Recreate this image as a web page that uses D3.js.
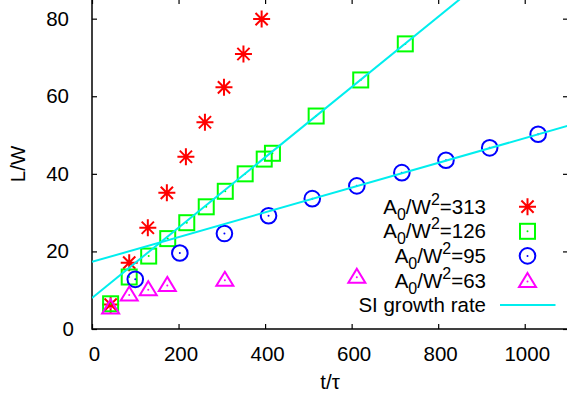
<!DOCTYPE html>
<html>
<head>
<meta charset="utf-8">
<script src="https://cdn.jsdelivr.net/npm/d3@7"></script>
<style>
  body { margin: 0; background: #fff; }
  svg { display: block; font-family: "Liberation Sans", Arial, sans-serif; }
  .axis path { display: none; }
  .axis line { stroke: #000; stroke-width: 1.2; }
  .axis text { font-size: 20.5px; fill: #000; font-family: "Liberation Sans", Arial, sans-serif; }
</style>
</head>
<body>
<svg width="567" height="400"></svg>
<script>
// data
const t313 = [43, 86, 129, 173, 217, 261, 305, 350, 392];
const L313 = [6.3, 17.1, 26.1, 35.1, 44.4, 53.3, 62.3, 70.9, 79.9];

const t126 = [43, 86, 131, 175, 219, 264, 308, 354, 398, 417, 518, 621, 724];
const L126 = [6.5, 13.4, 18.8, 23.3, 27.4, 31.5, 35.5, 40.0, 43.8, 45.3, 54.9, 64.2, 73.5];

const t95 = [100, 203, 306, 408, 509, 612, 716, 818, 919, 1031];
const L95 = [12.8, 19.6, 24.6, 29.2, 33.6, 36.9, 40.3, 43.5, 46.7, 50.2];

const t63 = [43, 86, 130, 174, 307, 612];
const L63 = [5.7, 9.0, 10.4, 11.5, 12.8, 13.6];

// SI growth rate fits: L/W = a + b*t
const siIntercept = [8.0, 17.3];
const siSlope = [0.0906, 0.0319];

const xTicks = [0, 200, 400, 600, 800, 1000];
const yTicks = [0, 20, 40, 60, 80];

const legendLabels = ["313", "126", "95", "63"];

var svg = d3.select("svg");
var mLeft = 92, mRight = 568, mTop = -1, mBottom = 329;

var x = d3.scaleLinear().domain([0, 1100]).range([mLeft, mRight]);
var y = d3.scaleLinear().domain([0, 85.07]).range([mBottom, mTop]);

// axes with inward ticks
svg.append("g").attr("class", "axis")
    .attr("transform", "translate(0," + mBottom + ")")
    .call(d3.axisBottom(x).tickValues(xTicks).tickFormat(d3.format("d"))
        .tickSizeInner(-5).tickSizeOuter(0).tickPadding(17))
    .selectAll("text").attr("dx", 2);

svg.append("g").attr("class", "axis")
    .attr("transform", "translate(0," + mTop + ")")
    .call(d3.axisTop(x).tickValues(xTicks).tickSizeInner(-5).tickSizeOuter(0).tickFormat(""));

svg.append("g").attr("class", "axis")
    .attr("transform", "translate(" + mLeft + ",0)")
    .call(d3.axisLeft(y).tickValues(yTicks).tickFormat(d3.format("d"))
        .tickSizeInner(-5).tickSizeOuter(0).tickPadding(23))
    .selectAll("text").attr("dx", function(d) { return d === 0 ? 5 : 0; });

svg.append("g").attr("class", "axis")
    .attr("transform", "translate(" + mRight + ",0)")
    .call(d3.axisRight(y).tickValues(yTicks).tickSizeInner(-5).tickSizeOuter(0).tickFormat(""));

// border
svg.append("rect")
    .attr("x", mLeft).attr("y", mTop)
    .attr("width", mRight - mLeft).attr("height", mBottom - mTop)
    .attr("fill", "none").attr("stroke", "#000").attr("stroke-width", 1.5);

// axis titles
svg.append("text")
    .attr("transform", "translate(25,164) rotate(-90)")
    .attr("text-anchor", "middle")
    .style("font-size", "20.5px")
    .text("L/W");

svg.append("text")
    .attr("x", 330).attr("y", 389)
    .attr("text-anchor", "middle")
    .style("font-size", "20.5px")
    .text("t/\u03c4");

svg.append("clipPath").attr("id", "clip")
    .append("rect").attr("x", mLeft).attr("y", mTop)
    .attr("width", mRight - mLeft).attr("height", mBottom - mTop);

// marker drawing
function star(g, cx, cy, color) {
    var r = 8.5, d = r * 0.72;
    g.append("path")
        .attr("d", "M" + (cx - r) + "," + cy + "h" + (2 * r) +
                   "M" + cx + "," + (cy - r) + "v" + (2 * r) +
                   "M" + (cx - d) + "," + (cy - d) + "l" + (2 * d) + "," + (2 * d) +
                   "M" + (cx - d) + "," + (cy + d) + "l" + (2 * d) + "," + (-2 * d))
        .attr("stroke", color).attr("stroke-width", 2).attr("fill", "none");
}
function dot(g, cx, cy, color) {
    g.append("circle").attr("cx", cx).attr("cy", cy).attr("r", 1).attr("fill", color);
}
function square(g, cx, cy, color) {
    var s = 7.5;
    g.append("rect").attr("x", cx - s).attr("y", cy - s)
        .attr("width", 2 * s).attr("height", 2 * s)
        .attr("stroke", color).attr("stroke-width", 2).attr("fill", "none");
    dot(g, cx, cy, color);
}
function circle(g, cx, cy, color) {
    g.append("circle").attr("cx", cx).attr("cy", cy).attr("r", 7.8)
        .attr("stroke", color).attr("stroke-width", 2).attr("fill", "none");
    dot(g, cx, cy, color);
}
function triangle(g, cx, cy, color) {
    var w = 8.5, h = 7.5;
    g.append("path")
        .attr("d", "M" + cx + "," + (cy - h) + "L" + (cx + w) + "," + (cy + h - 1) +
                   "L" + (cx - w) + "," + (cy + h - 1) + "Z")
        .attr("stroke", color).attr("stroke-width", 2).attr("fill", "none");
    dot(g, cx, cy + 1, color);
}

var series = [
    {t: t313, L: L313, color: "#ff0000", mark: star},
    {t: t126, L: L126, color: "#00ff00", mark: square},
    {t: t95, L: L95, color: "#0000ff", mark: circle},
    {t: t63, L: L63, color: "#ff00ff", mark: triangle}
];

var pts = svg.append("g").attr("clip-path", "url(#clip)");
series.forEach(function(s) {
    for (var i = 0; i < s.t.length; i++) {
        s.mark(pts, x(s.t[i]), y(s.L[i]), s.color);
    }
});

// fit lines
var lineG = svg.append("g").attr("clip-path", "url(#clip)");
var line = d3.line().x(function(d) { return x(d[0]); }).y(function(d) { return y(d[1]); });
for (var k = 0; k < siIntercept.length; k++) {
    var a = siIntercept[k], b = siSlope[k];
    lineG.append("path")
        .attr("d", line([[0, a], [1100, a + b * 1100]]))
        .attr("stroke", "#00eeee").attr("stroke-width", 2).attr("fill", "none");
}

// legend
var legX = 486, symX = 527.5, row0 = 206.7, rowH = 24.6;
var leg = svg.append("g");
legendLabels.forEach(function(lab, i) {
    var cy = row0 + i * rowH;
    var t = leg.append("text")
        .attr("x", legX).attr("y", cy + 7)
        .attr("text-anchor", "end")
        .style("font-size", "20.5px");
    t.append("tspan").text("A");
    t.append("tspan").attr("dy", 6).style("font-size", "16px").text("0");
    t.append("tspan").attr("dy", -6).text("/W");
    t.append("tspan").attr("dy", -9).style("font-size", "16px").text("2");
    t.append("tspan").attr("dy", 9).text("=" + lab);
    series[i].mark(leg, symX, cy, series[i].color);
});
var lastY = row0 + 4 * rowH;
leg.append("text")
    .attr("x", legX).attr("y", lastY + 7)
    .attr("text-anchor", "end")
    .style("font-size", "20.5px")
    .text("SI growth rate");
leg.append("line")
    .attr("x1", 500).attr("x2", 555.5)
    .attr("y1", lastY).attr("y2", lastY)
    .attr("stroke", "#00eeee").attr("stroke-width", 2);
</script>
</body>
</html>
